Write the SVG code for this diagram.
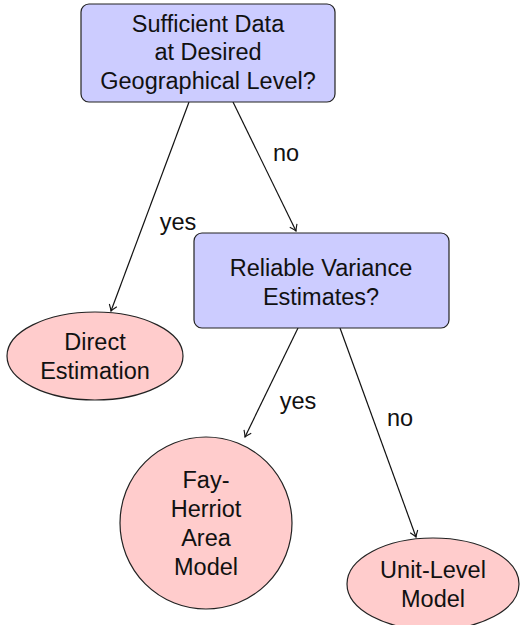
<svg xmlns="http://www.w3.org/2000/svg" width="520" height="625" viewBox="0 0 520 625">
<defs>
<style>
.box{fill:#ccccff;stroke:#222;stroke-width:1.2}
.term{fill:#ffcccc;stroke:#222;stroke-width:1.2}
text{font-family:"Liberation Sans",Arial,sans-serif;font-size:23.5px;fill:#111;text-anchor:middle}
.edge{stroke:#111;stroke-width:1.2;fill:none;marker-end:url(#arr)}
</style>
<marker id="arr" viewBox="-8 -5 10 10" refX="0" refY="0" markerWidth="10" markerHeight="10" markerUnits="userSpaceOnUse" orient="auto">
<path d="M-6,-4 Q-2,-1 0,0 Q-2,1 -6,4" fill="none" stroke="#111" stroke-width="1.1"/>
</marker>
</defs>
<rect width="520" height="625" fill="#fff"/>
<g id="edges">
<line class="edge" x1="189" y1="102" x2="111" y2="311"/>
<line class="edge" x1="233" y1="102" x2="296" y2="231"/>
<line class="edge" x1="298" y1="328" x2="245" y2="437"/>
<line class="edge" x1="340" y1="328" x2="416" y2="537"/>
<text x="178" y="230">yes</text>
<text x="286" y="161">no</text>
<text x="298" y="409">yes</text>
<text x="400" y="426">no</text>
</g>
<g id="q1">
<rect class="box" x="81" y="4" width="254" height="98" rx="8"/>
<text x="208" y="32">Sufficient Data</text>
<text x="208" y="60">at Desired</text>
<text x="208" y="89">Geographical Level?</text>
</g>
<g id="q2">
<rect class="box" x="194" y="233" width="255" height="95" rx="8"/>
<text x="321" y="276">Reliable Variance</text>
<text x="321" y="305">Estimates?</text>
</g>
<g id="direct">
<ellipse class="term" cx="95" cy="356" rx="88" ry="44"/>
<text x="95" y="350">Direct</text>
<text x="95" y="379">Estimation</text>
</g>
<g id="fh">
<circle class="term" cx="206" cy="523" r="86"/>
<text x="206" y="488">Fay-</text>
<text x="206" y="517">Herriot</text>
<text x="206" y="546">Area</text>
<text x="206" y="575">Model</text>
</g>
<g id="unit">
<ellipse class="term" cx="433" cy="584" rx="86" ry="46"/>
<text x="433" y="578">Unit-Level</text>
<text x="433" y="607">Model</text>
</g>
</svg>
